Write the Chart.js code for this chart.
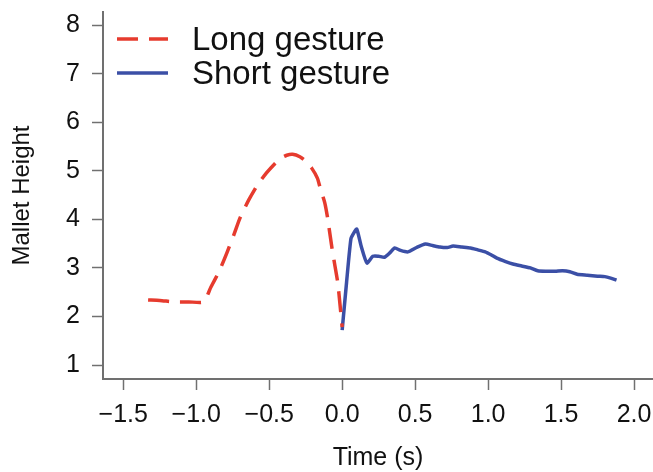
<!DOCTYPE html>
<html>
<head>
<meta charset="utf-8">
<script src="https://cdn.jsdelivr.net/npm/chart.js@4"></script>
<style>
  body { margin: 0; background: #fff; }
</style>
</head>
<body>
<canvas id="mallet-chart" width="653" height="472"></canvas>
<script>
// values
const longTime = [-1.33, -1.25, -1.15, -1.05, -0.95, -0.90, -0.84, -0.79, -0.74, -0.70, -0.64, -0.58, -0.52, -0.46, -0.42, -0.38, -0.34, -0.29, -0.25, -0.21, -0.17, -0.15, -0.12, -0.10, -0.07, -0.05, -0.03, -0.015, 0.0];
const longHeight = [2.34, 2.33, 2.30, 2.30, 2.30, 2.60, 2.95, 3.31, 3.70, 4.03, 4.40, 4.71, 4.95, 5.15, 5.26, 5.32, 5.34, 5.29, 5.20, 5.06, 4.85, 4.64, 4.35, 4.03, 3.41, 3.05, 2.69, 2.25, 1.78];

const shortTime = [0.00, 0.03, 0.06, 0.08, 0.10, 0.13, 0.17, 0.21, 0.25, 0.29, 0.33, 0.36, 0.40, 0.45, 0.51, 0.57, 0.62, 0.67, 0.72, 0.76, 0.82, 0.88, 0.93, 0.98, 1.02, 1.06, 1.12, 1.17, 1.23, 1.29, 1.34, 1.40, 1.46, 1.51, 1.56, 1.61, 1.68, 1.75, 1.80, 1.84, 1.88];
const shortHeight = [1.72, 2.70, 3.60, 3.72, 3.80, 3.45, 3.10, 3.24, 3.24, 3.22, 3.32, 3.41, 3.36, 3.33, 3.42, 3.49, 3.46, 3.43, 3.42, 3.45, 3.43, 3.41, 3.37, 3.33, 3.27, 3.20, 3.13, 3.08, 3.04, 3.00, 2.94, 2.93, 2.93, 2.94, 2.92, 2.87, 2.85, 2.83, 2.82, 2.79, 2.75];

const xTicks = [-1.5, -1.0, -0.5, 0.0, 0.5, 1.0, 1.5, 2.0];
const yTicks = [1, 2, 3, 4, 5, 6, 7, 8];

const axisColor = '#707070';
const textColor = '#111';

Chart.defaults.font.family = '"Liberation Sans", Arial, sans-serif';
Chart.defaults.color = textColor;

function toPoints(xs, ys) {
    var pts = [];
    for (var i = 0; i < xs.length; i++) {
        pts.push({ x: xs[i], y: ys[i] });
    }
    return pts;
}

// legend drawn inside the plot, line sample + label
const lineLegend = {
    id: 'lineLegend',
    afterDraw(chart, args, opts) {
        const ctx = chart.ctx;
        const area = chart.chartArea;
        ctx.save();
        ctx.font = opts.font;
        ctx.textBaseline = 'middle';
        chart.data.datasets.forEach(function (ds, i) {
            const x = area.left + opts.left;
            const y = area.top + opts.top + i * opts.rowHeight;
            ctx.strokeStyle = ds.borderColor;
            ctx.lineWidth = ds.borderWidth;
            ctx.setLineDash(ds.borderDash || []);
            ctx.beginPath();
            ctx.moveTo(x, y);
            ctx.lineTo(x + opts.lineLength, y);
            ctx.stroke();
            ctx.fillStyle = textColor;
            ctx.fillText(ds.label, x + opts.lineLength + opts.gap, y + 1.5);
        });
        ctx.restore();
    }
};

var ctx = document.getElementById('mallet-chart').getContext('2d');
var malletChart = new Chart(ctx, {
    type: 'scatter',
    data: {
        datasets: [{
            label: 'Long gesture',
            data: toPoints(longTime, longHeight),
            showLine: true,
            borderColor: '#e63b2e',
            borderWidth: 3.5,
            borderDash: [21, 11],
            pointRadius: 0,
            tension: 0.2
        }, {
            label: 'Short gesture',
            data: toPoints(shortTime, shortHeight),
            showLine: true,
            borderColor: '#3b4fa6',
            borderWidth: 3.5,
            pointRadius: 0,
            tension: 0.2
        }]
    },
    options: {
        responsive: false,
        animation: false,
        layout: { padding: { top: 12, right: 0, left: 0, bottom: 0 } },
        plugins: {
            legend: { display: false },
            tooltip: { enabled: false },
            lineLegend: {
                left: 14,
                top: 27,
                rowHeight: 34,
                lineLength: 51,
                gap: 24,
                font: '33px "Liberation Sans", Arial, sans-serif'
            }
        },
        scales: {
            x: {
                type: 'linear',
                min: -1.639,
                max: 2.13,
                afterBuildTicks: function (scale) {
                    scale.ticks = xTicks.map(function (v) { return { value: v }; });
                },
                afterFit: function (scale) {
                    scale.height = 93;
                    scale.paddingLeft = 0;
                    scale.paddingRight = 0;
                },
                ticks: {
                    padding: 10,
                    font: { size: 25 },
                    color: textColor,
                    maxRotation: 0,
                    callback: function (v) {
                        return v.toFixed(1).replace('-', '\u2212');
                    }
                },
                grid: {
                    drawOnChartArea: false,
                    drawTicks: true,
                    tickLength: 11,
                    tickColor: axisColor,
                    tickWidth: 1.5
                },
                border: { display: true, color: axisColor, width: 2 },
                title: {
                    display: true,
                    text: 'Time (s)',
                    font: { size: 25 },
                    color: textColor,
                    padding: { top: 0, bottom: -1 }
                }
            },
            y: {
                type: 'linear',
                min: 0.712,
                max: 8.27,
                afterBuildTicks: function (scale) {
                    scale.ticks = yTicks.map(function (v) { return { value: v }; });
                },
                afterFit: function (scale) {
                    scale.width = 103;
                    scale.paddingTop = 0;
                    scale.paddingBottom = 0;
                },
                ticks: {
                    padding: 12,
                    font: { size: 25 },
                    color: textColor
                },
                grid: {
                    drawOnChartArea: false,
                    drawTicks: true,
                    tickLength: 11,
                    tickColor: axisColor,
                    tickWidth: 1.5
                },
                border: { display: true, color: axisColor, width: 2 },
                title: {
                    display: true,
                    text: 'Mallet Height',
                    font: { size: 24 },
                    color: textColor,
                    padding: { top: 8, bottom: 0 }
                }
            }
        }
    },
    plugins: [lineLegend]
});
</script>
</body>
</html>
